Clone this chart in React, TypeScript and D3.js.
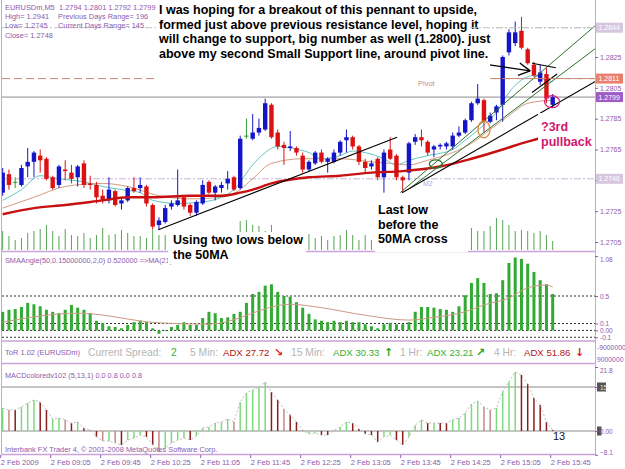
import React, { useEffect, useRef } from 'react'
import * as d3 from 'd3'

type Candle = [number, number, number, number] // open, high, low, close
type Pt = [number, number] // bar index, value

const W = 625
const H = 469

// EURUSDm M5, 2 Feb 2009, bar 0 = 08:25
const candles: Candle[] = [
  [1.2737, 1.2753, 1.2735, 1.275], [1.2749, 1.2752, 1.2739, 1.2742], [1.2744, 1.2747, 1.274, 1.2744],
  [1.2742, 1.2755, 1.2741, 1.2753], [1.2754, 1.2766, 1.2747, 1.2757], [1.2757, 1.2764, 1.2747, 1.2763],
  [1.2761, 1.2765, 1.275, 1.2758], [1.2759, 1.276, 1.2745, 1.2746], [1.2747, 1.2748, 1.2739, 1.274],
  [1.2742, 1.2755, 1.274, 1.2754], [1.2752, 1.2758, 1.2745, 1.2751], [1.275, 1.2755, 1.2743, 1.2746],
  [1.2747, 1.2755, 1.2741, 1.2754], [1.2756, 1.2758, 1.274, 1.2742], [1.2743, 1.2748, 1.2739, 1.2742],
  [1.2742, 1.2744, 1.273, 1.2734], [1.2735, 1.2739, 1.273, 1.2732], [1.2732, 1.2747, 1.273, 1.2739],
  [1.2738, 1.2739, 1.2728, 1.2729], [1.273, 1.2733, 1.2726, 1.2732], [1.2732, 1.2741, 1.2731, 1.274],
  [1.274, 1.2747, 1.2737, 1.2738], [1.274, 1.2747, 1.2737, 1.2742], [1.2741, 1.2742, 1.2728, 1.273],
  [1.2729, 1.273, 1.2713, 1.2715], [1.2716, 1.2721, 1.2713, 1.2719], [1.2718, 1.2729, 1.2717, 1.2727],
  [1.2728, 1.2732, 1.2726, 1.273], [1.2729, 1.2752, 1.2728, 1.2732], [1.2734, 1.2735, 1.2726, 1.2728],
  [1.2729, 1.273, 1.2722, 1.2724], [1.2724, 1.2732, 1.2722, 1.2731], [1.273, 1.2745, 1.2729, 1.2742],
  [1.2744, 1.2745, 1.2736, 1.2737], [1.2737, 1.2742, 1.2732, 1.2741], [1.274, 1.2744, 1.2737, 1.2742],
  [1.2743, 1.2751, 1.2739, 1.2746], [1.2747, 1.2748, 1.2738, 1.2739], [1.274, 1.2774, 1.2739, 1.2772],
  [1.2774, 1.2785, 1.2772, 1.2774], [1.2772, 1.2788, 1.2771, 1.2776], [1.2776, 1.2785, 1.2774, 1.2779],
  [1.2778, 1.2798, 1.2777, 1.2795], [1.2794, 1.2795, 1.2772, 1.2773], [1.2776, 1.2778, 1.2765, 1.2767],
  [1.2768, 1.277, 1.2755, 1.2766], [1.2766, 1.2777, 1.2764, 1.2767], [1.2766, 1.2767, 1.2761, 1.2763],
  [1.2761, 1.2763, 1.275, 1.2752], [1.2752, 1.2758, 1.2751, 1.2757], [1.2756, 1.2764, 1.2755, 1.2763],
  [1.2763, 1.2765, 1.2756, 1.2757], [1.2757, 1.276, 1.275, 1.2759], [1.2757, 1.2765, 1.2756, 1.2763],
  [1.2763, 1.2771, 1.2761, 1.277], [1.2771, 1.2778, 1.2763, 1.2773], [1.2773, 1.2774, 1.2765, 1.2767],
  [1.2767, 1.2768, 1.2755, 1.2757], [1.2757, 1.2759, 1.275, 1.2753], [1.2754, 1.2758, 1.2752, 1.2756],
  [1.2759, 1.276, 1.2745, 1.2747], [1.2747, 1.2765, 1.2737, 1.2763], [1.2765, 1.2773, 1.2758, 1.2759],
  [1.2761, 1.2762, 1.2745, 1.2747], [1.2747, 1.2748, 1.2737, 1.2745], [1.275, 1.277, 1.2745, 1.2769],
  [1.277, 1.2775, 1.2768, 1.2773], [1.2773, 1.2778, 1.2767, 1.2771], [1.277, 1.2771, 1.2761, 1.2763],
  [1.2765, 1.2768, 1.276, 1.2767], [1.2767, 1.2769, 1.2765, 1.2768], [1.2767, 1.277, 1.2765, 1.2769],
  [1.2767, 1.2776, 1.2765, 1.2774], [1.2774, 1.278, 1.2773, 1.2776], [1.2776, 1.2785, 1.2775, 1.2784],
  [1.2784, 1.2796, 1.2783, 1.2795], [1.2795, 1.2809, 1.2794, 1.2798], [1.2797, 1.2798, 1.2776, 1.2783],
  [1.2783, 1.2789, 1.2782, 1.2787], [1.2789, 1.2794, 1.2784, 1.2793], [1.2794, 1.2826, 1.2783, 1.2825],
  [1.2828, 1.2843, 1.2826, 1.2841], [1.2834, 1.2848, 1.2832, 1.2841], [1.2842, 1.2851, 1.283, 1.2831],
  [1.283, 1.2831, 1.282, 1.2821], [1.282, 1.2822, 1.2812, 1.2813], [1.2809, 1.282, 1.2807, 1.2815],
  [1.2814, 1.2818, 1.2795, 1.2798], [1.2794, 1.2801, 1.2792, 1.2799],
]

const tickVolume = [
  20, 15, 11, 13, 18, 20, 22, 26, 20, 15, 22, 16, 15, 18, 13, 16, 23, 16, 17, 21,
  18, 15, 15, 13, 21, 16, 16, 14, 18, 12, 15, 14, 19, 17, 15, 14, 16, 13, 30, 31,
  26, 25, 20, 26, 19, 18, 17, 15, 19, 17, 13, 15, 11, 15, 16, 21, 16, 11, 16, 11,
  22, 25, 18, 20, 24, 28, 17, 16, 19, 15, 14, 13, 17, 20, 22, 23, 20, 20, 25, 33,
  31, 26, 20, 21, 20, 18, 20, 16, 10,
]

// moving averages
const maFast: Pt[] = [
  [0, 1.2732], [3, 1.2739], [6, 1.2748], [9, 1.2746], [13, 1.2744], [16, 1.2741], [19, 1.2739],
  [22, 1.2737], [24, 1.2732], [28, 1.273], [32, 1.2731], [35, 1.2734], [37, 1.2739], [40, 1.2755],
  [42, 1.2763], [44, 1.2767], [46, 1.2766], [49, 1.2763], [51, 1.2759], [54, 1.2761], [56, 1.2764],
  [58, 1.2763], [61, 1.2759], [63, 1.2755], [65, 1.2758], [68, 1.2761], [72, 1.2765], [74, 1.2771],
  [77, 1.2781], [79, 1.2789], [81, 1.2802], [83, 1.281], [85, 1.2813], [87, 1.281], [88, 1.2809],
]
const maSlow: Pt[] = [
  [0, 1.2727], [5, 1.2734], [10, 1.2741], [16, 1.2743], [20, 1.2741], [25, 1.2735], [30, 1.2733],
  [35, 1.2734], [38, 1.2739], [40, 1.2746], [43, 1.2756], [48, 1.2759], [54, 1.2759], [59, 1.2757],
  [62, 1.2756], [65, 1.2755], [68, 1.2758], [72, 1.2763], [75, 1.2769], [78, 1.2778], [81, 1.2787],
  [84, 1.2795], [88, 1.2797],
]
const ma50: Pt[] = [
  [0, 1.2723], [5, 1.2727], [10, 1.2729], [16, 1.2732], [20, 1.2734], [24, 1.2734], [30, 1.2735],
  [35, 1.2735], [38, 1.2737], [40, 1.2739], [43, 1.2743], [49, 1.2747], [54, 1.2748], [59, 1.275],
  [64, 1.2751], [70, 1.2754], [75, 1.2759], [80, 1.2765], [83, 1.2769], [87, 1.2774], [88, 1.2776],
]

const dayHigh = 1.2844
const pivot = 1.2811
const lastPrice = 1.2799
const dayLow = 1.2746
const priceTicks = [1.2705, 1.2725, 1.2745, 1.2765, 1.2785, 1.2805, 1.2825]

const timeBars = [0, 8, 16, 24, 32, 40, 48, 56, 64, 72, 80, 88]
const timeLabels = [
  '2 Feb 2009', '2 Feb 09:05', '2 Feb 09:45', '2 Feb 10:25', '2 Feb 11:05', '2 Feb 11:45',
  '2 Feb 12:25', '2 Feb 13:05', '2 Feb 13:45', '2 Feb 14:25', '2 Feb 15:05', '2 Feb 15:45',
]

// trendlines drawn on the chart: [bar, price] -> [bar, price]
const blackLines: [Pt, Pt][] = [
  [[24.9, 1.2713], [63.1, 1.2773]],
  [[63.9, 1.2737], [95.6, 1.2811]],
  [[84.7, 1.2821], [88.5, 1.2818]],
  [[84.7, 1.2802], [88.7, 1.2814]],
]
const greenLines: [Pt, Pt][] = [
  [[63.6, 1.2737], [95, 1.2846]],
  [[65.2, 1.274], [95, 1.2831]],
]
const arrowLine: [Pt, Pt] = [[74.3, 1.2822], [84.4, 1.2816]]
const orangeMark: Pt = [77, 1.2778]
const greenMark: Pt = [69.3, 1.27556]
const pinkMark: Pt = [87.9, 1.2796]

const note1 = [
  'I was hoping for a breakout of this pennant to upside,',
  'formed just above previous resistance level, hoping it',
  'will change to support, big number as well (1.2800). just',
  'above my second Small Support line, around pivot line.',
]
const note2 = ['Using two lows below', 'the 50MA']
const note3 = ['Last low', 'before the', '50MA cross']
const note4 = ['?3rd', 'pullback']

const headerLeft = ['High= 1.2941', 'Low= 1.2745', 'Close= 1.2748']
const headerRight = ['Previous Days Range= 196', 'Current Days Range= 145']

const smaAngle = [
  0.27, 0.3, 0.31, 0.34, 0.4, 0.38, 0.35, 0.3, 0.27, 0.25, 0.3, 0.37, 0.33, 0.3, 0.25, 0.14, 0.11, 0.06, 0.05, 0.03,
  0.08, 0.12, 0.14, 0.12, 0.03, -0.05, -0.01, 0.05, 0.08, 0.12, 0.08, 0.08, 0.18, 0.27, 0.25, 0.18, 0.19, 0.24, 0.27, 0.4,
  0.53, 0.56, 0.65, 0.67, 0.56, 0.5, 0.49, 0.41, 0.33, 0.24, 0.16, 0.14, 0.12, 0.14, 0.12, 0.14, 0.12, 0.12, 0.09, 0.06,
  0.03, 0.09, 0.11, 0.09, 0.09, 0.12, 0.27, 0.34, 0.34, 0.33, 0.31, 0.3, 0.27, 0.35, 0.51, 0.69, 0.76, 0.69, 0.53, 0.54,
  0.73, 0.98, 1.06, 1.04, 0.97, 0.85, 0.73, 0.67, 0.53,
]
const smaAngleMa: Pt[] = [
  [0, 0.12], [12, 0.25], [25, 0.11], [33, 0.09], [46, 0.38], [51, 0.33], [58, 0.22], [65, 0.15],
  [69, 0.19], [74, 0.27], [77, 0.37], [81, 0.47], [84, 0.62], [87, 0.66], [88, 0.63],
]
const smaLevels = [0.5, 0.1, 0, -0.1]
const smaTicks = [1.08, 0.5, 0.1, 0, -0.1]
const smaTickLabels = ['1.08', '0.5', '0.1', '0.00', '-0.1']

const macd = [
  7.8, 7.2, 7.2, 8.2, 9.5, 10.6, 9.9, 7.2, 4.1, 4.4,
  3.8, 2.7, 3.1, 1.0, 0.3, -2.0, -3.4, -3.4, -4.1, -4.8,
  -3.1, -2.4, -1.4, -2.0, -4.8, -7.2, -5.8, -4.1, -3.1, -2.4,
  -3.1, -1.7, 1.0, 1.4, 2.7, 3.1, 4.1, 3.1, 9.9, 13.0,
  14.0, 15.0, 16.7, 13.3, 10.6, 7.5, 5.5, 3.1, 0.3, -1.0,
  -0.7, -1.4, -1.4, 0.2, 1.4, 3.1, 2.7, 0.7, -1.0, -1.4,
  -3.8, -2.0, -1.4, -3.1, -4.8, -2.0, 2.0, 3.8, 2.7, 2.7,
  2.7, 2.7, 3.8, 4.4, 6.1, 9.2, 10.2, 8.2, 7.2, 7.8,
  13.6, 16.7, 20.1, 19.1, 16.0, 11.3, 8.9, 3.1, 0.3,
]
// G rising, R falling, P weak
const macdTrend = ('GPRGGGRRGG' + 'PRGRPRPGPR' + 'GGGRRPGGGG' + 'RGGGGGGPGG' + 'GGGRRPRRPG' +
  'GRRGGGRRRR' + 'RGGRRGGGRG' + 'RRGGGGGPPG' + 'GGGRRRRRR').split('')
const macdLevels = [15, 0]

const torItems: [string, string][] = [
  ['Current Spread:', 'muted'], ['2', 'up'], ['5 Min:', 'muted'], ['ADX 27.72', 'down'], ['\u2198', 'downArrow'],
  ['15 Min:', 'muted'], ['ADX 30.33', 'up'], ['\u2191', 'upArrow'], ['1 Hr:', 'muted'], ['ADX 23.21', 'up'],
  ['\u2197', 'upArrow'], ['4 Hr:', 'muted'], ['ADX 51.86', 'down'], ['\u2193', 'downArrow'],
]

const App = () => {
  const ref = useRef<SVGSVGElement>(null)

  useEffect(() => {
    const svg = d3.select(ref.current)
    svg.selectAll('*').remove()

    const PURPLE = '#8c5aae'
    const FRAME = '#c9a3d9'
    const SANS = '"Liberation Sans", Arial, sans-serif'
    const f4 = d3.format('.4f')

    const x = d3.scaleLinear().domain([0, 88]).range([2.7, 552.7])
    const yP = d3.scaleLinear().domain([1.2705, 1.2825]).range([242, 57])
    const yV = d3.scaleLinear().domain([0, 33]).range([251, 218])
    const yA = d3.scaleLinear().domain([0, 0.5]).range([330.4, 296])
    const yM = d3.scaleLinear().domain([0, 15]).range([431, 387])

    svg.append('rect').attr('width', W).attr('height', H).attr('fill', '#fff')

    svg.append('clipPath').attr('id', 'pclip').append('rect')
      .attr('x', 2).attr('y', 0).attr('width', 593).attr('height', 250)
    const pg = svg.append('g').attr('clip-path', 'url(#pclip)')

    const hline = (g, yv, stroke, dash, x1 = 2) =>
      g.append('line').attr('x1', x1).attr('x2', 595).attr('y1', yv).attr('y2', yv)
        .attr('stroke', stroke).attr('stroke-width', 1).attr('stroke-dasharray', dash)

    // price levels
    hline(pg, yP(dayHigh), '#c4c4c4', '7,2,2,2')
    hline(pg, yP(pivot), '#c98676', '8,4')
    hline(pg, yP(lastPrice), '#8a8a8a', null)
    hline(pg, yP(dayLow), '#cbb6da', '7,2,2,2')

    // volume
    pg.selectAll('line.vol').data(tickVolume).enter().append('line')
      .attr('x1', (d, i) => x(i)).attr('x2', (d, i) => x(i))
      .attr('y1', yV(0)).attr('y2', d => yV(d))
      .attr('stroke', '#55a555').attr('stroke-width', 1)

    const maLine = d3.line<Pt>().x(d => x(d[0])).y(d => yP(d[1])).curve(d3.curveMonotoneX)
    pg.append('path').attr('d', maLine(maSlow)).attr('fill', 'none').attr('stroke', '#d59a80').attr('stroke-width', 1)
    pg.append('path').attr('d', maLine(maFast)).attr('fill', 'none').attr('stroke', '#62c6c6').attr('stroke-width', 1)

    // candles
    const cg = pg.selectAll('g.c').data(candles).enter().append('g')
    const col = (d: Candle) => (d[3] > d[0] ? '#1515c8' : d[3] < d[0] ? '#dc1212' : '#2e9e2e')
    cg.append('line')
      .attr('x1', (d, i) => x(i)).attr('x2', (d, i) => x(i))
      .attr('y1', d => yP(d[1])).attr('y2', d => yP(d[2]))
      .attr('stroke', col).attr('stroke-width', 1)
    cg.append('rect')
      .attr('x', (d, i) => x(i) - 2.2).attr('width', 4.4)
      .attr('y', d => yP(Math.max(d[0], d[3])))
      .attr('height', d => Math.max(1, Math.abs(yP(d[0]) - yP(d[3]))))
      .attr('fill', col)

    pg.append('path').attr('d', maLine(ma50)).attr('fill', 'none').attr('stroke', '#c81010').attr('stroke-width', 2.4)

    // drawn objects
    const seg = (g, l: [Pt, Pt], stroke, w = 1) =>
      g.append('line')
        .attr('x1', x(l[0][0])).attr('y1', yP(l[0][1]))
        .attr('x2', x(l[1][0])).attr('y2', yP(l[1][1]))
        .attr('stroke', stroke).attr('stroke-width', w)
    greenLines.forEach(l => seg(pg, l, '#2f6f2f'))
    blackLines.forEach(l => seg(pg, l, '#000', 1.1))
    seg(pg, arrowLine, '#000', 1.3)
    {
      const tx = x(arrowLine[1][0]), ty = yP(arrowLine[1][1])
      const a = Math.atan2(ty - yP(arrowLine[0][1]), tx - x(arrowLine[0][0]))
      ;[-0.5, 0.5].forEach(da => {
        pg.append('line').attr('x1', tx).attr('y1', ty)
          .attr('x2', tx - 13 * Math.cos(a + da)).attr('y2', ty - 13 * Math.sin(a + da))
          .attr('stroke', '#000').attr('stroke-width', 1.3)
      })
    }
    const ell = (p: Pt, rx, ry, stroke) =>
      pg.append('ellipse').attr('cx', x(p[0])).attr('cy', yP(p[1])).attr('rx', rx).attr('ry', ry)
        .attr('fill', 'none').attr('stroke', stroke).attr('stroke-width', 1.3)
    ell(orangeMark, 6, 8.5, '#e08a3c')
    ell(greenMark, 6.5, 4.2, '#2b7b32')
    ell(pinkMark, 7.5, 6, '#d81f7c')

    pg.append('text').attr('x', 423).attr('y', 186).text('M2')
      .attr('font-family', SANS).attr('font-size', 7).attr('fill', '#b9a6cc')

    // panel frames
    const frame = svg.append('g').attr('stroke', FRAME).attr('fill', 'none')
    frame.append('line').attr('x1', 1.5).attr('x2', 1.5).attr('y1', 0).attr('y2', 455)
    frame.append('line').attr('x1', 595.5).attr('x2', 595.5).attr('y1', 0).attr('y2', 455)
    ;[251.5, 341, 363.5, 454.5].forEach(y => {
      frame.append('line').attr('x1', 1).attr('x2', 596).attr('y1', y).attr('y2', y).attr('stroke-width', 1.6)
    })

    // SMAAngle panel
    const ag = svg.append('g')
    smaLevels.forEach(v => hline(ag, yA(v), '#333', '2,2', 2))
    ag.selectAll('rect').data(smaAngle).enter().append('rect')
      .attr('x', (d, i) => x(i) - 1.5).attr('width', 3)
      .attr('y', d => Math.min(yA(0), yA(d)))
      .attr('height', d => Math.abs(yA(d) - yA(0)))
      .attr('fill', '#33aa33')
    const angLine = d3.line<Pt>().x(d => x(d[0])).y(d => yA(d[1])).curve(d3.curveMonotoneX)
    ag.append('path').attr('d', angLine(smaAngleMa)).attr('fill', 'none').attr('stroke', '#c99a86').attr('stroke-width', 1)
    ag.append('text').attr('x', 5).attr('y', 263).text('SMAAngle(50,0.15000000,2,0) 0.520000  =>MA(21)')
      .attr('font-family', SANS).attr('font-size', 7.3).attr('fill', PURPLE)

    // ToR strip
    const torX = [88, 171, 190, 223, 274, 291, 333, 384, 400, 427, 476, 494, 524, 575]
    const torColor = { muted: '#b5b5b5', up: '#35b035', down: '#b01818', upArrow: '#22a622', downArrow: '#dd2020' }
    svg.append('text').attr('x', 5).attr('y', 354.5).text('ToR 1.02 (EURUSDm)')
      .attr('font-family', SANS).attr('font-size', 7.5).attr('fill', PURPLE)
    torItems.forEach(([t, k], i) => {
      const arrow = k.endsWith('Arrow')
      const adx = t.startsWith('ADX')
      svg.append('text').attr('x', torX[i]).attr('y', 355.5).text(t)
        .attr('font-family', arrow ? '"DejaVu Sans", sans-serif' : SANS)
        .attr('font-weight', arrow ? 'bold' : 'normal')
        .attr('font-size', arrow ? 11 : adx ? 9.6 : 10.3).attr('fill', torColor[k])
    })
    svg.append('text').attr('x', 597).attr('y', 350).text('-9000000')
      .attr('font-family', SANS).attr('font-size', 6.8).attr('fill', PURPLE)
    svg.append('text').attr('x', 597).attr('y', 362).text('9000000')
      .attr('font-family', SANS).attr('font-size', 6.8).attr('fill', PURPLE)

    // MACD panel
    const mg = svg.append('g')
    macdLevels.forEach(v => hline(mg, yM(v), '#8c8c8c', null, 2))
    const mcol = { G: '#7fd87f', R: '#8b1c1c', P: '#c48a8a' }
    mg.selectAll('line.m').data(macd).enter().append('line')
      .attr('x1', (d, i) => x(i)).attr('x2', (d, i) => x(i))
      .attr('y1', yM(0)).attr('y2', d => yM(d))
      .attr('stroke', (d, i) => mcol[macdTrend[i]]).attr('stroke-width', 1.5)
    const mLine = d3.line<number>().x((d, i) => x(i)).y(d => yM(d))
    mg.append('path').attr('d', mLine(macd)).attr('fill', 'none').attr('stroke', '#bdbdbd')
      .attr('stroke-width', 1).attr('stroke-dasharray', '2,2')
    mg.append('text').attr('x', 5).attr('y', 378).text('MACDcoloredv102 (5,13,1) 0.0 0.8 0.0 0.8')
      .attr('font-family', SANS).attr('font-size', 7.3).attr('fill', PURPLE)
    mg.append('text').attr('x', 5).attr('y', 452).text('Interbank FX Trader 4, \u00a9 2001-2008 MetaQuotes Software Corp.')
      .attr('font-family', SANS).attr('font-size', 7.4).attr('fill', PURPLE)
    mg.append('text').attr('x', 553).attr('y', 439.5).text('13')
      .attr('font-family', SANS).attr('font-size', 11).attr('fill', '#111')

    // white label boxes of the notes
    const note = (lines: string[], x0, y0, bx, by, bw, bh, fill) => {
      svg.append('rect').attr('x', bx).attr('y', by).attr('width', bw).attr('height', bh).attr('fill', '#fff')
      lines.forEach((t, i) => {
        svg.append('text').attr('x', x0).attr('y', y0 + i * 14.6).text(t)
          .attr('font-family', SANS).attr('font-weight', 'bold').attr('font-size', 12.5).attr('fill', fill)
      })
    }
    note(note1, 159, 14, 157, 0, 333, 84, '#000')
    note(note2, 173, 244, 168, 232, 138, 32, '#000')
    note(note3, 378, 214, 375, 200, 93, 52, '#000')
    note(note4, 541, 131, 538, 113, 56, 37, '#d0186f')

    // objects visible over the first note
    svg.append('line').attr('x1', 470).attr('x2', 595).attr('y1', yP(dayHigh)).attr('y2', yP(dayHigh))
      .attr('stroke', '#c4c4c4').attr('stroke-dasharray', '7,2,2,2')
    svg.append('line').attr('x1', 490).attr('x2', 595).attr('y1', yP(pivot)).attr('y2', yP(pivot))
      .attr('stroke', '#c98676').attr('stroke-dasharray', '8,4')
    svg.append('text').attr('x', 418).attr('y', 86).text('Pivot')
      .attr('font-family', SANS).attr('font-size', 7.5).attr('fill', '#cf8f80')

    // header
    const last = candles[candles.length - 1]
    const hg = svg.append('g').attr('font-family', SANS).attr('font-size', 7.4).attr('fill', PURPLE)
    hg.append('text').attr('x', 5).attr('y', 10).text('EURUSDm,M5')
    hg.append('text').attr('x', 59).attr('y', 10).text(last.map(v => f4(v)).join(' '))
    headerLeft.forEach((t, i) => hg.append('text').attr('x', 5).attr('y', 19 + i * 9.3).text(t))
    headerRight.forEach((t, i) => hg.append('text').attr('x', 58).attr('y', 19 + i * 9.3).text(t))

    // price axis
    const pa = svg.append('g').attr('transform', 'translate(595,0)')
      .call(d3.axisRight(yP).tickValues(priceTicks).tickSize(3).tickPadding(2).tickFormat(f4))
    pa.select('.domain').remove()
    pa.attr('font-family', SANS).attr('font-size', 7).attr('color', PURPLE)

    const tags: [number, string][] = [[dayHigh, '#d6c6de'], [pivot, '#e8806e'], [lastPrice, '#9c5cc4'], [dayLow, '#d6c6de']]
    tags.forEach(([v, fill]) => {
      svg.append('rect').attr('x', 596).attr('y', yP(v) - 5).attr('width', 27).attr('height', 10).attr('fill', fill)
      svg.append('text').attr('x', 598.5).attr('y', yP(v) + 2.6).text(f4(v))
        .attr('font-family', SANS).attr('font-size', 7).attr('fill', '#fff')
    })

    // SMAAngle axis
    const aa = svg.append('g').attr('transform', 'translate(595,0)')
      .call(d3.axisRight(yA).tickValues(smaTicks).tickSize(3).tickPadding(2).tickFormat((d, i) => smaTickLabels[i]))
    aa.select('.domain').remove()
    aa.attr('font-family', SANS).attr('font-size', 6.5).attr('color', PURPLE)
    aa.selectAll('.tick').filter((d, i) => i === 0).select('text').attr('dy', '0.9em')

    // MACD axis
    const ma = svg.append('g').attr('transform', 'translate(595,0)')
      .call(d3.axisRight(yM).tickValues([21.8, 15, 0, -8.1]).tickSize(3).tickPadding(2).tickFormat(d3.format('.1f')))
    ma.select('.domain').remove()
    ma.attr('font-family', SANS).attr('font-size', 6.5).attr('color', PURPLE)
    ma.selectAll('.tick text').text((d: number) => (d === 15 ? '15' : d === 0 ? '0.00' : d3.format('.1f')(d)))
    ma.selectAll('.tick').filter((d: number) => d === 21.8).select('text').attr('dy', '0.9em')
    ma.selectAll('.tick').filter((d: number) => d === -8.1).select('text').attr('dy', '-0.1em')
    svg.insert('rect', () => ma.node()).attr('x', 597).attr('y', yM(15) - 4.5).attr('width', 9).attr('height', 9).attr('fill', '#555')
    svg.insert('rect', () => ma.node()).attr('x', 597).attr('y', yM(0) - 4.5).attr('width', 4.5).attr('height', 9).attr('fill', '#555')
    ma.selectAll('.tick').filter((d: number) => d === 15).select('text').attr('fill', '#e6e6e6')

    // time axis
    const ta = svg.append('g').attr('transform', 'translate(-2.5,455)')
      .call(d3.axisBottom(x).tickValues(timeBars).tickSize(3).tickPadding(1.5).tickFormat((d, i) => timeLabels[i]))
    ta.select('.domain').remove()
    ta.attr('font-family', SANS).attr('font-size', 7.5).attr('color', PURPLE)
    ta.selectAll('.tick text').attr('text-anchor', 'start').attr('x', 0)
  }, [])

  return <svg ref={ref} width={W} height={H} style={{ position: 'absolute', left: 0, top: 0, background: '#fff' }} />
}

export default App
